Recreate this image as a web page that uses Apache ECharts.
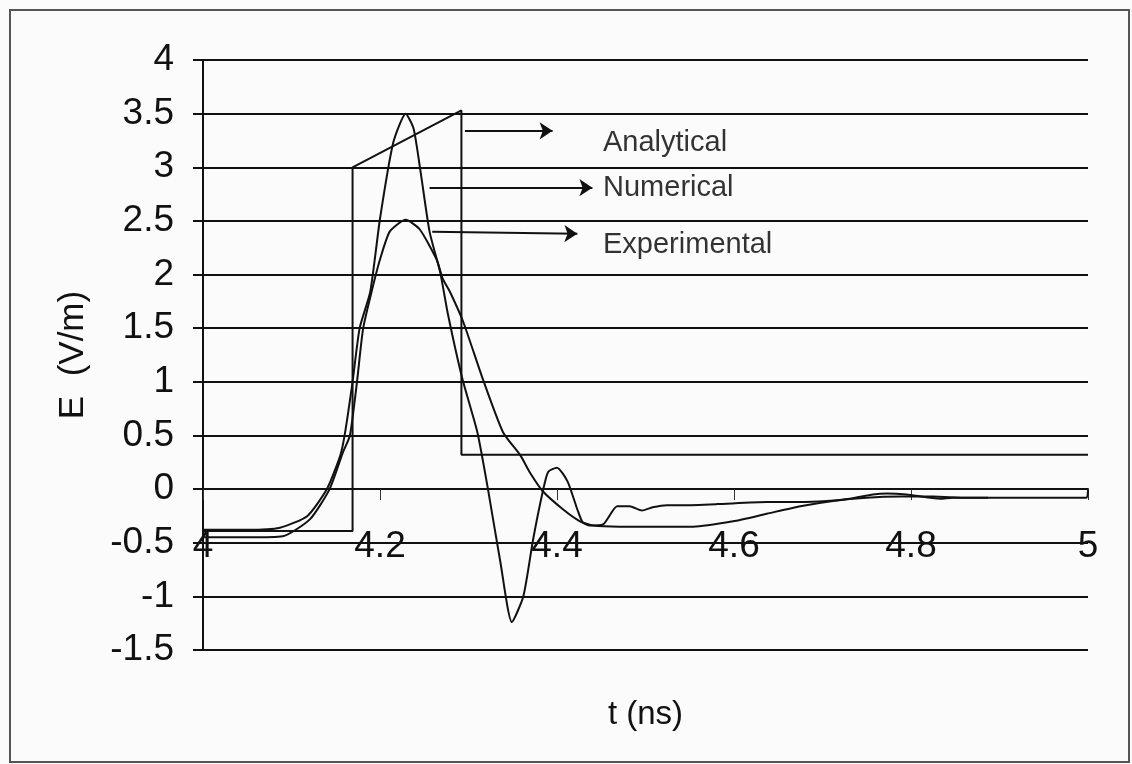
<!DOCTYPE html>
<html>
<head>
<meta charset="utf-8">
<script src="https://cdn.jsdelivr.net/npm/echarts@6/dist/echarts.min.js"></script>
<style>
  html, body { margin: 0; padding: 0; background: #fbfbfb; }
  #chart { width: 1132px; height: 764px; }
</style>
</head>
<body>
<div id="chart"></div>
<script>
// Field pulse E(t): analytical step model, numerical simulation, measurement
const analytical = [
  [4.0, -0.39], [4.169, -0.39], [4.169, 3.0], [4.292, 3.53], [4.292, 0.32], [5.0, 0.32]
];

const numerical = [
  [4.0, -0.38], [4.05, -0.38], [4.087, -0.36], [4.118, -0.25], [4.14, 0.0], [4.155, 0.31],
  [4.160, 0.5], [4.169, 1.0], [4.177, 1.5], [4.189, 1.84], [4.2, 2.52], [4.215, 3.23],
  [4.229, 3.5], [4.238, 3.36], [4.246, 2.95], [4.256, 2.4], [4.268, 2.02], [4.277, 1.62],
  [4.293, 1.03], [4.310, 0.53], [4.322, 0.0], [4.336, -0.68], [4.349, -1.24], [4.362, -1.0],
  [4.373, -0.47], [4.384, -0.02], [4.390, 0.16], [4.400, 0.2], [4.412, 0.07], [4.423, -0.19],
  [4.429, -0.31], [4.437, -0.34], [4.452, -0.33], [4.468, -0.16], [4.482, -0.16], [4.496, -0.2],
  [4.508, -0.17], [4.524, -0.15], [4.542, -0.15], [4.581, -0.14], [4.637, -0.12], [4.675, -0.12],
  [4.705, -0.11], [4.731, -0.09], [4.757, -0.05], [4.773, -0.04], [4.795, -0.05], [4.833, -0.09],
  [4.847, -0.08], [4.887, -0.08]
];

const experimental = [
  [4.0, -0.45], [4.05, -0.45], [4.09, -0.44], [4.121, -0.28], [4.143, 0.0], [4.158, 0.34],
  [4.166, 0.5], [4.174, 1.0], [4.181, 1.5], [4.192, 1.89], [4.2, 2.14], [4.211, 2.4],
  [4.229, 2.51], [4.245, 2.42], [4.264, 2.14], [4.271, 1.96], [4.279, 1.84], [4.294, 1.56],
  [4.316, 1.03], [4.339, 0.53], [4.359, 0.31], [4.369, 0.16], [4.384, -0.02], [4.407, -0.19],
  [4.426, -0.3], [4.441, -0.34], [4.471, -0.35], [4.554, -0.35], [4.599, -0.3], [4.637, -0.23],
  [4.675, -0.16], [4.712, -0.11], [4.75, -0.08], [4.788, -0.07], [4.825, -0.07], [4.863, -0.08],
  [4.901, -0.08], [4.998, -0.08], [5.0, -0.01]
];

// Callout arrows (start and end in t, E) and their captions
const calloutNames = ['Analytical', 'Numerical', 'Experimental'];
const calloutArrows = [
  [[4.296, 3.34], [4.395, 3.34]],
  [[4.256, 2.81], [4.440, 2.81]],
  [[4.259, 2.40], [4.423, 2.38]]
];
const calloutTextAt = [[4.452, 3.23], [4.452, 2.81], [4.452, 2.28]];

const FONT = '"Liberation Sans", Arial, sans-serif';
const INK = '#111';

const curveStyle = { color: INK, width: 2 };

const chart = echarts.init(document.getElementById('chart'), null, { renderer: 'canvas' });

chart.setOption({
  backgroundColor: '#fbfbfb',
  animation: false,
  graphic: [{
    type: 'rect',
    shape: { x: 10, y: 10, width: 1119, height: 752 },
    style: { fill: 'none', stroke: '#555', lineWidth: 2 },
    silent: true
  }],
  grid: {
    left: 203, right: 44, top: 60, bottom: 114,
    containLabel: false, outerBoundsMode: 'none'
  },
  xAxis: {
    type: 'value',
    min: 4, max: 5, interval: 0.2,
    name: 't (ns)',
    nameLocation: 'middle',
    nameGap: 48,
    nameTextStyle: { fontFamily: FONT, fontSize: 33, color: INK },
    axisLine: { show: true, onZero: true, lineStyle: { color: INK, width: 2 } },
    axisTick: { show: true, inside: false, length: 11, lineStyle: { color: '#333', width: 1 } },
    axisLabel: {
      fontFamily: FONT, fontSize: 37, color: INK, margin: -122,
      formatter: v => String(Math.round(v * 10) / 10)
    },
    splitLine: { show: false }
  },
  yAxis: {
    type: 'value',
    min: -1.5, max: 4, interval: 0.5,
    name: 'E  (V/m)',
    nameLocation: 'middle',
    nameGap: 112,
    nameTextStyle: { fontFamily: FONT, fontSize: 35, color: INK },
    axisLine: { show: true, onZero: false, lineStyle: { color: INK, width: 2 } },
    axisTick: { show: true, inside: false, length: 10, lineStyle: { color: INK, width: 2 } },
    axisLabel: { fontFamily: FONT, fontSize: 37, color: INK, margin: 29 },
    splitLine: { show: true, lineStyle: { color: INK, width: 2 } }
  },
  series: [
    {
      name: 'Analytical', type: 'line', data: analytical,
      showSymbol: false, lineStyle: curveStyle, z: 3
    },
    {
      name: 'Numerical', type: 'line', data: numerical, smooth: 0.2,
      showSymbol: false, lineStyle: curveStyle, z: 3
    },
    {
      name: 'Experimental', type: 'line', data: experimental, smooth: 0.2,
      showSymbol: false, lineStyle: curveStyle, z: 3
    },
    {
      name: 'callouts', type: 'line', data: [], z: 4,
      markLine: {
        silent: true,
        symbol: ['none', 'arrow'],
        symbolSize: 13,
        label: { show: false },
        lineStyle: { color: INK, width: 2, type: 'solid' },
        data: calloutArrows.map(([a, b]) => [{ coord: a }, { coord: b }])
      }
    },
    {
      name: 'captions', type: 'scatter', z: 4,
      symbolSize: 0,
      data: calloutNames.map((n, i) => ({ name: n, value: calloutTextAt[i] })),
      label: {
        show: true, position: 'right', distance: 0,
        formatter: p => p.name,
        fontFamily: FONT, fontSize: 29, color: '#000'
      }
    }
  ]
});
</script>
</body>
</html>
